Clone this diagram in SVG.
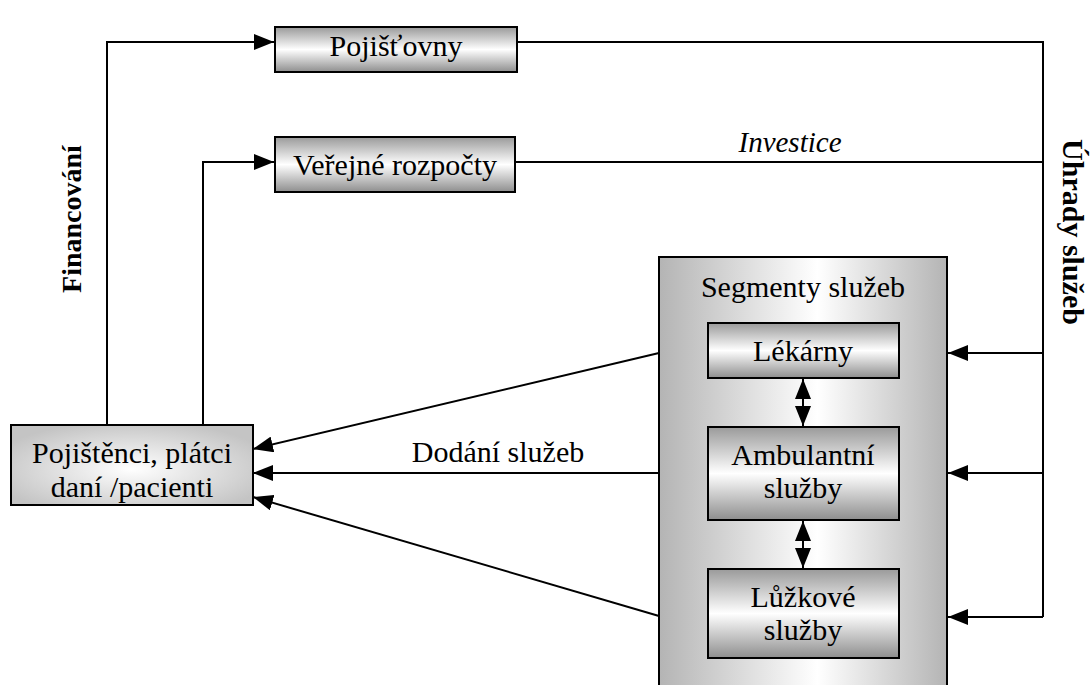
<svg xmlns="http://www.w3.org/2000/svg" width="1091" height="685" viewBox="0 0 1091 685">
  <defs>
    <linearGradient id="gradV" x1="0" y1="0" x2="0" y2="1">
      <stop offset="0" stop-color="#9a9a9a"/>
      <stop offset="0.5" stop-color="#ffffff"/>
      <stop offset="1" stop-color="#8e8e8e"/>
    </linearGradient>
    <linearGradient id="gradH" x1="0" y1="0" x2="1" y2="0">
      <stop offset="0" stop-color="#b4b4b4"/>
      <stop offset="0.55" stop-color="#ffffff"/>
      <stop offset="1" stop-color="#b4b4b4"/>
    </linearGradient>
    <radialGradient id="gradR" cx="0.5" cy="0.55" r="0.6">
      <stop offset="0" stop-color="#ffffff"/>
      <stop offset="1" stop-color="#c4c4c4"/>
    </radialGradient>
    <marker id="arrow" markerUnits="userSpaceOnUse" markerWidth="22" markerHeight="16" refX="20" refY="8" orient="auto-start-reverse" viewBox="0 0 22 16">
      <path d="M0,0 L20,8 L0,16 Z" fill="#000"/>
    </marker>
  </defs>
  <style>
    .box { stroke: #000; stroke-width: 2; }
    .lbl { font-family: "Liberation Serif", "Times New Roman", serif; font-size: 30px; fill: #000; text-anchor: middle; }
    .side { font-weight: bold; }
    .fin { font-size: 28px; }
    .ital { font-style: italic; font-size: 29px; }
    .wire { fill: none; stroke: #000; stroke-width: 2; }
  </style>

  <rect width="1091" height="685" fill="#fff"/>

  <!-- connectors -->
  <g id="connectors">
    <path class="wire" d="M107,425 V42 H274" marker-end="url(#arrow)"/>
    <path class="wire" d="M203,425 V162 H274" marker-end="url(#arrow)"/>
    <path class="wire" d="M517,42 H1043 V617"/>
    <path class="wire" d="M515,162 H1043"/>
    <path class="wire" d="M1043,353 H948" marker-end="url(#arrow)"/>
    <path class="wire" d="M1043,473 H948" marker-end="url(#arrow)"/>
    <path class="wire" d="M1043,617 H948" marker-end="url(#arrow)"/>
    <path class="wire" d="M659,353 L253,449" marker-end="url(#arrow)"/>
    <path class="wire" d="M659,473 L253,473" marker-end="url(#arrow)"/>
    <path class="wire" d="M659,616 L253,497" marker-end="url(#arrow)"/>
  </g>

  <!-- side labels -->
  <text class="lbl side fin" transform="translate(81,219) rotate(-90)">Financování</text>
  <text class="lbl side" transform="translate(1063,232) rotate(90)">Úhrady služeb</text>
  <text class="lbl ital" x="790" y="152">Investice</text>
  <text class="lbl" x="498" y="462">Dodání služeb</text>

  <g id="pojistovny">
    <rect class="box" x="275" y="27" width="242" height="45" fill="url(#gradV)"/>
    <text class="lbl" x="396" y="56">Pojišťovny</text>
  </g>

  <g id="verejne-rozpocty">
    <rect class="box" x="275" y="137" width="240" height="55" fill="url(#gradV)"/>
    <text class="lbl" x="395" y="175">Veřejné rozpočty</text>
  </g>

  <g id="pojistenci">
    <rect class="box" x="11" y="425" width="242" height="80" fill="url(#gradR)"/>
    <text class="lbl" x="132" y="463">Pojištěnci, plátci</text>
    <text class="lbl" x="132" y="497">daní /pacienti</text>
  </g>

  <g id="segmenty">
    <rect class="box" x="659" y="257" width="288" height="440" fill="url(#gradH)"/>
    <text class="lbl" x="803" y="297">Segmenty služeb</text>
  </g>

  <g id="lekarny">
    <rect class="box" x="708" y="323" width="191" height="55" fill="url(#gradV)"/>
    <text class="lbl" x="803" y="361">Lékárny</text>
  </g>

  <g id="ambulantni">
    <rect class="box" x="708" y="427" width="191" height="93" fill="url(#gradV)"/>
    <text class="lbl" x="803" y="465">Ambulantní</text>
    <text class="lbl" x="803" y="498">služby</text>
  </g>

  <g id="luzkove">
    <rect class="box" x="708" y="569" width="191" height="89" fill="url(#gradV)"/>
    <text class="lbl" x="803" y="607">Lůžkové</text>
    <text class="lbl" x="803" y="640">služby</text>
  </g>

  <!-- links between the service segments -->
  <g id="segment-links">
    <path class="wire" d="M803,379 V426" marker-start="url(#arrow)" marker-end="url(#arrow)"/>
    <path class="wire" d="M803,521 V568" marker-start="url(#arrow)" marker-end="url(#arrow)"/>
  </g>
</svg>
